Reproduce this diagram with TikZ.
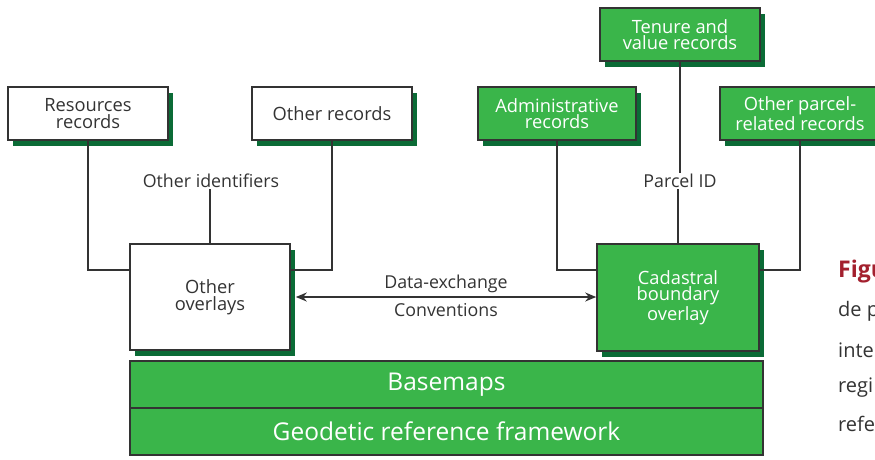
\documentclass[tikz,border=0pt]{standalone}
\usepackage{fontspec}
\setmainfont{Open Sans}
\usetikzlibrary{arrows.meta,shadows}
\definecolor{boxgreen}{HTML}{3AB54A}
\definecolor{shadegreen}{HTML}{0B6B36}
\definecolor{ink}{HTML}{333333}
\definecolor{capred}{HTML}{A3202E}
\tikzset{
  recbox/.style={draw=ink, line width=1.6pt, minimum width=160pt, minimum height=53pt,
    inner sep=0pt, align=center, font=\fontsize{18.3}{16.5}\selectfont,
    drop shadow={shadow xshift=5pt, shadow yshift=-6pt, fill=shadegreen, opacity=1}},
  whitebox/.style={recbox, fill=white, text=ink},
  greenbox/.style={recbox, fill=boxgreen, text=white},
  layerbox/.style={draw=ink, line width=1.6pt, fill=boxgreen, text=white,
    minimum width=633pt, minimum height=47pt, inner sep=0pt,
    font=\fontsize{24.5}{26}\selectfont},
  link/.style={draw=ink, line width=1.4pt},
  lbl/.style={text=ink, inner sep=1pt, font=\fontsize{17.8}{19}\selectfont},
  captxt/.style={text=ink, anchor=west, inner sep=0pt, font=\fontsize{20}{22}\selectfont}
}
\begin{document}
\begin{tikzpicture}[x=1pt, y=-1pt]
\clip (0,0) rectangle (875,459);
\fill[white] (0,0) rectangle (875,459);

% record boxes
\node[whitebox] (res) at (88,113.5) {Resources\\records};
\node[whitebox] (oth) at (332,113.5) {Other records};
\node[greenbox, minimum width=158pt] (adm) at (557,113.5) {Administrative\\records};
\node[greenbox] (ten) at (680,34.5) {Tenure and\\value records};
\node[greenbox] (opr) at (800,113.5) {Other parcel-\\related records};

% overlays
\node[whitebox, minimum height=106pt] (ovl) at (210,297) {Other\\overlays};
\node[greenbox, minimum width=162pt, minimum height=107pt] (cad) at (678,297.5) {Cadastral\\boundary\\overlay};

% base layers
\node[layerbox] (base) at (446.5,384.5) {Basemaps};
\node[layerbox] (geo) at (446.5,431.5) {Geodetic reference framework};

% identifier labels
\node[lbl] (oid) at (211,181) {Other identifiers};
\node[lbl] (pid) at (680,181) {Parcel ID};

% connectors, left group
\draw[link] (res.south) |- (ovl.west |- 0,270);
\draw[link] (oth.south) |- (ovl.east |- 0,270);
\draw[link] (oid.south -| ovl.north) -- (ovl.north);

% connectors, right group
\draw[link] (adm.south) |- (cad.west |- 0,270);
\draw[link] (opr.south) |- (cad.east |- 0,270);
\draw[link] (ten.south -| pid.north) -- (pid.north);
\draw[link] (pid.south -| cad.north) -- (cad.north);

% data exchange between overlays (kept horizontal)
\draw[link, {Stealth[length=11pt,width=9pt]}-{Stealth[length=11pt,width=9pt]}]
  ([xshift=5pt]ovl.east) -- (cad.west |- ovl.east);
\node[lbl] (dex) at (446,284) {Data-exchange};
\node[lbl] (cnv) at (446,310) {Conventions};

% caption column at the right edge
\node[anchor=west, inner sep=0pt, text=capred, font=\bfseries\fontsize{23}{24}\selectfont] (cap0) at (838,272) {Figu};
\node[captxt] (cap1) at (838,311) {de p};
\node[captxt] (cap2) at (838,350) {inte};
\node[captxt] (cap3) at (838,388) {regi};
\node[captxt] (cap4) at (838,424) {refe};
\end{tikzpicture}
\end{document}
